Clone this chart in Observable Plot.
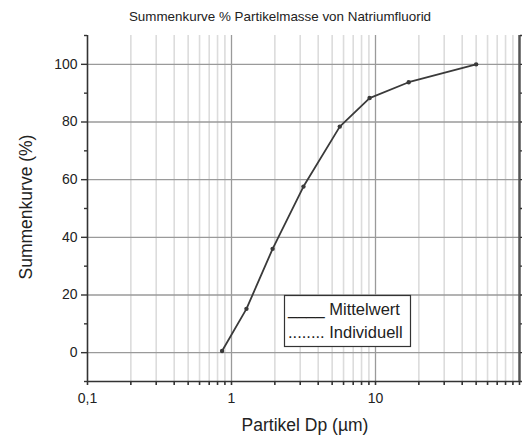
<!DOCTYPE html>
<html>
<head>
<meta charset="utf-8">
<script src="https://cdn.jsdelivr.net/npm/d3@7"></script>
<script src="https://cdn.jsdelivr.net/npm/@observablehq/plot@0.6"></script>
<style>
  html, body { margin: 0; padding: 0; background: #fff; }
  svg { font-family: "Liberation Sans", Arial, sans-serif; }
</style>
</head>
<body>
<div id="chart"></div>
<script>
// Data
const diameter = [0.86, 1.27, 1.93, 3.16, 5.65, 9.1, 17.0, 50.0];
const cumulative = [0.6, 15.2, 36.0, 57.6, 78.4, 88.3, 93.8, 100.0];
const majorX = [1, 10];
const minorX = [0.2,0.3,0.4,0.5,0.6,0.7,0.8,0.9, 2,3,4,5,6,7,8,9, 20,30,40,50,60,70,80,90];
const xTickLabels = [0.1, 1, 10];
const yTicks = [0, 20, 40, 60, 80, 100];
const yMinor = [-10, 10, 30, 50, 70, 90, 110];

const title = "Summenkurve % Partikelmasse von Natriumfluorid";
const xLabel = "Partikel Dp (µm)";
const yLabel = "Summenkurve (%)";
const legendItems = ["____ Mittelwert", "........ Individuell"];

const data = diameter.map((d, i) => ({x: d, y: cumulative[i]}));

const W = 522, H = 437;
const mL = 87, mR = 3, mT = 35, mB = 56;

const plot = Plot.plot({
  width: W, height: H,
  marginLeft: mL, marginRight: mR, marginTop: mT, marginBottom: mB,
  style: {fontFamily: "Liberation Sans, Arial, sans-serif", background: "#fff", overflow: "visible"},
  x: {type: "log", domain: [0.1, 100]},
  y: {domain: [-10, 110]},
  marks: [
    Plot.ruleX(minorX, {stroke: "#dcdcdc", strokeWidth: 1.6}),
    Plot.ruleX(majorX, {stroke: "#9a9a9a", strokeWidth: 1.3}),
    Plot.ruleY(yTicks, {stroke: "#9a9a9a", strokeWidth: 1.3}),
    // axis frame lines
    Plot.ruleY([-10], {stroke: "#333", strokeWidth: 1.6}),
    Plot.ruleX([0.1], {stroke: "#333", strokeWidth: 1.6}),
    Plot.ruleX([100], {stroke: "#555", strokeWidth: 2.5}),
    // x ticks
    Plot.axisX({ticks: xTickLabels, tickSize: 4, tickPadding: 8, stroke: "#333", strokeWidth: 1.6,
      tickFormat: d => String(d).replace(".", ","), fontSize: 14, fill: "#222", label: null}),
    Plot.axisX({ticks: minorX.concat([100]), tickSize: 4, tickFormat: () => "", stroke: "#333", strokeWidth: 1.6, label: null}),
    // y ticks
    Plot.axisY({ticks: yTicks, tickSize: 6, tickPadding: 4, stroke: "#333", strokeWidth: 1.4,
      fontSize: 14, fill: "#222", label: null}),
    Plot.axisY({ticks: yMinor, tickSize: 3, tickFormat: () => "", stroke: "#333", strokeWidth: 1.4, label: null}),
    Plot.axisY({anchor: "right", ticks: yTicks.concat(yMinor), tickSize: 4, tickFormat: () => "", stroke: "#333", strokeWidth: 1.4, label: null}),
    // data
    Plot.line(data, {x: "x", y: "y", stroke: "#3a3a3a", strokeWidth: 1.8}),
    Plot.dot(data, {x: "x", y: "y", r: 2.2, fill: "#3a3a3a", stroke: "none"})
  ]
});

const svg = d3.select(plot);
svg.append("text").attr("x", 280).attr("y", 21).attr("text-anchor", "middle")
  .attr("font-size", 13.4).attr("fill", "#222").text(title);
svg.append("text").attr("x", 305).attr("y", 431).attr("text-anchor", "middle")
  .attr("font-size", 17.5).attr("fill", "#222").text(xLabel);
svg.append("text").attr("transform", "translate(32,207) rotate(-90)").attr("text-anchor", "middle")
  .attr("font-size", 17.5).attr("fill", "#222").text(yLabel);

// legend box
const lg = svg.append("g");
lg.append("rect").attr("x", 284.5).attr("y", 295.5).attr("width", 126).attr("height", 51)
  .attr("fill", "#fff").attr("stroke", "#333").attr("stroke-width", 1.2);
lg.append("text").attr("x", 288).attr("y", 315).attr("text-anchor", "start")
  .attr("font-size", 16.5).attr("fill", "#222").text(legendItems[0]);
lg.append("text").attr("x", 288).attr("y", 338).attr("text-anchor", "start")
  .attr("font-size", 16.5).attr("fill", "#222").text(legendItems[1]);

document.getElementById("chart").appendChild(plot);
</script>
</body>
</html>
